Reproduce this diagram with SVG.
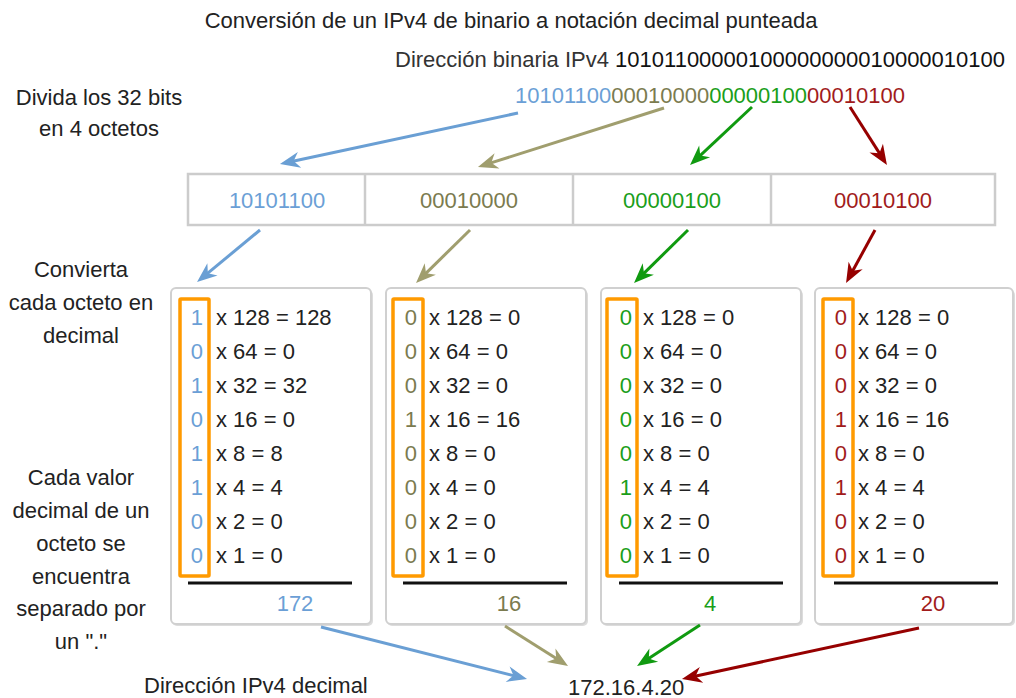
<svg xmlns="http://www.w3.org/2000/svg" width="1016" height="698" viewBox="0 0 1016 698">
<style>
text{font-family:"Liberation Sans",Arial,sans-serif;font-size:22px;fill:#222}
.c{text-anchor:middle}
.e text{text-anchor:end}
.b,.b text{fill:#6b9fd6}.o,.o text{fill:#7b7b4f}.g,.g text{fill:#1a9e1a}.r,.r text{fill:#a11b1b}
.box{fill:#fff;stroke:#d0d0d0;stroke-width:2}
.shadow{fill:#dcdcdc}
.brk{fill:none;stroke:#ff9a00;stroke-width:3.5}
.sum{stroke:#111;stroke-width:3}
.cell{fill:#fff;stroke:#cccccc;stroke-width:2.5}
.ab{stroke:#6a9fd4;stroke-width:3;fill:none;marker-end:url(#mb)}
.ao{stroke:#a09e6e;stroke-width:3;fill:none;marker-end:url(#mo)}
.ag{stroke:#109a10;stroke-width:3;fill:none;marker-end:url(#mg)}
.ar{stroke:#960000;stroke-width:3;fill:none;marker-end:url(#mr)}
</style>
<defs>
<marker id="mb" markerUnits="userSpaceOnUse" viewBox="-10 -10 24 20" refX="0" refY="0" markerWidth="24" markerHeight="20" orient="auto" overflow="visible"><path d="M12,0 L-8,-8 L-2,0 L-8,8 Z" fill="#6a9fd4"/></marker>
<marker id="mo" markerUnits="userSpaceOnUse" viewBox="-10 -10 24 20" refX="0" refY="0" markerWidth="24" markerHeight="20" orient="auto" overflow="visible"><path d="M12,0 L-8,-8 L-2,0 L-8,8 Z" fill="#a09e6e"/></marker>
<marker id="mg" markerUnits="userSpaceOnUse" viewBox="-10 -10 24 20" refX="0" refY="0" markerWidth="24" markerHeight="20" orient="auto" overflow="visible"><path d="M12,0 L-8,-8 L-2,0 L-8,8 Z" fill="#109a10"/></marker>
<marker id="mr" markerUnits="userSpaceOnUse" viewBox="-10 -10 24 20" refX="0" refY="0" markerWidth="24" markerHeight="20" orient="auto" overflow="visible"><path d="M12,0 L-8,-8 L-2,0 L-8,8 Z" fill="#960000"/></marker>
</defs>
<rect width="1016" height="698" fill="#fff"/>

<g id="title"><text class="c" x="511" y="28">Conversión de un IPv4 de binario a notación decimal punteada</text></g>
<g id="binary-address"><text x="395" y="67"><tspan fill="#333">Dirección binaria IPv4 </tspan><tspan fill="#111">10101100000100000000010000010100</tspan></text></g>
<g id="divide-label"><text class="c" x="99" y="105">Divida los 32 bits</text><text class="c" x="99" y="136">en 4 octetos</text></g>
<g id="binary-colored"><text x="515" y="103"><tspan class="b">10101100</tspan><tspan class="o">00010000</tspan><tspan class="g">00000100</tspan><tspan class="r">00010100</tspan></text></g>

<g id="octet-table">
<rect class="cell" x="188" y="174" width="807" height="51"/>
<line x1="365" y1="174" x2="365" y2="225" stroke="#cccccc" stroke-width="2.5"/>
<line x1="573" y1="174" x2="573" y2="225" stroke="#cccccc" stroke-width="2.5"/>
<line x1="771" y1="174" x2="771" y2="225" stroke="#cccccc" stroke-width="2.5"/>
<g id="cell1"><text class="c b" x="277" y="208">10101100</text></g>
<g id="cell2"><text class="c o" x="469" y="208">00010000</text></g>
<g id="cell3"><text class="c g" x="672" y="208">00000100</text></g>
<g id="cell4"><text class="c r" x="883" y="208">00010100</text></g>
</g>

<g id="convert-label"><text class="c" x="81" y="277">Convierta</text><text class="c" x="81" y="310">cada octeto en</text><text class="c" x="81" y="343">decimal</text></g>
<g id="separate-label"><text class="c" x="81" y="485">Cada valor</text><text class="c" x="81" y="518">decimal de un</text><text class="c" x="81" y="551">octeto se</text><text class="c" x="81" y="584">encuentra</text><text class="c" x="81" y="616">separado por</text><text class="c" x="81" y="649">un "."</text></g>

<g id="box1">
<rect class="shadow" x="172" y="290" width="201" height="336" rx="5"/>
<rect class="box" x="171" y="288" width="200" height="336" rx="5"/>
<rect class="brk" x="180" y="299" width="29" height="277" rx="1"/>
<g class="e b"><text x="203" y="325">1</text><text x="203" y="359">0</text><text x="203" y="393">1</text><text x="203" y="427">0</text><text x="203" y="461">1</text><text x="203" y="495">1</text><text x="203" y="529">0</text><text x="203" y="563">0</text></g>
<text x="216" y="325">x 128 = 128</text><text x="216" y="359">x 64 = 0</text><text x="216" y="393">x 32 = 32</text><text x="216" y="427">x 16 = 0</text><text x="216" y="461">x 8 = 8</text><text x="216" y="495">x 4 = 4</text><text x="216" y="529">x 2 = 0</text><text x="216" y="563">x 1 = 0</text>
<line class="sum" x1="188" y1="583" x2="352" y2="583"/>
<text class="c b" x="295" y="611">172</text>
</g>

<g id="box2">
<rect class="shadow" x="387" y="290" width="201" height="336" rx="5"/>
<rect class="box" x="386" y="288" width="200" height="336" rx="5"/>
<rect class="brk" x="393" y="299" width="30" height="277" rx="1"/>
<g class="e o"><text x="417" y="325">0</text><text x="417" y="359">0</text><text x="417" y="393">0</text><text x="417" y="427">1</text><text x="417" y="461">0</text><text x="417" y="495">0</text><text x="417" y="529">0</text><text x="417" y="563">0</text></g>
<text x="429" y="325">x 128 = 0</text><text x="429" y="359">x 64 = 0</text><text x="429" y="393">x 32 = 0</text><text x="429" y="427">x 16 = 16</text><text x="429" y="461">x 8 = 0</text><text x="429" y="495">x 4 = 0</text><text x="429" y="529">x 2 = 0</text><text x="429" y="563">x 1 = 0</text>
<line class="sum" x1="403" y1="583" x2="567" y2="583"/>
<text class="c o" x="509" y="611">16</text>
</g>

<g id="box3">
<rect class="shadow" x="602" y="290" width="201" height="336" rx="5"/>
<rect class="box" x="601" y="288" width="200" height="336" rx="5"/>
<rect class="brk" x="607" y="299" width="30" height="277" rx="1"/>
<g class="e g"><text x="632" y="325">0</text><text x="632" y="359">0</text><text x="632" y="393">0</text><text x="632" y="427">0</text><text x="632" y="461">0</text><text x="632" y="495">1</text><text x="632" y="529">0</text><text x="632" y="563">0</text></g>
<text x="643" y="325">x 128 = 0</text><text x="643" y="359">x 64 = 0</text><text x="643" y="393">x 32 = 0</text><text x="643" y="427">x 16 = 0</text><text x="643" y="461">x 8 = 0</text><text x="643" y="495">x 4 = 4</text><text x="643" y="529">x 2 = 0</text><text x="643" y="563">x 1 = 0</text>
<line class="sum" x1="619" y1="583" x2="783" y2="583"/>
<text class="c g" x="710" y="611">4</text>
</g>

<g id="box4">
<rect class="shadow" x="816" y="290" width="199" height="336" rx="5"/>
<rect class="box" x="815" y="288" width="198" height="336" rx="5"/>
<rect class="brk" x="823" y="299" width="30" height="277" rx="1"/>
<g class="e r"><text x="847" y="325">0</text><text x="847" y="359">0</text><text x="847" y="393">0</text><text x="847" y="427">1</text><text x="847" y="461">0</text><text x="847" y="495">1</text><text x="847" y="529">0</text><text x="847" y="563">0</text></g>
<text x="858" y="325">x 128 = 0</text><text x="858" y="359">x 64 = 0</text><text x="858" y="393">x 32 = 0</text><text x="858" y="427">x 16 = 16</text><text x="858" y="461">x 8 = 0</text><text x="858" y="495">x 4 = 4</text><text x="858" y="529">x 2 = 0</text><text x="858" y="563">x 1 = 0</text>
<line class="sum" x1="834" y1="583" x2="998" y2="583"/>
<text class="c r" x="933" y="611">20</text>
</g>

<g id="decimal-label"><text x="144" y="693">Dirección IPv4 decimal</text></g>
<g id="decimal-address"><text x="568" y="695">172.16.4.20</text></g>

<g id="connectors">
<path class="ab" d="M518,113 L291.7,161.5"/>
<path class="ao" d="M664,108 L489.4,163.4"/>
<path class="ag" d="M752,107 L698.8,156.8"/>
<path class="ar" d="M850,107 L880.5,154.9"/>
<path class="ab" d="M260,230 L206.3,274.4"/>
<path class="ao" d="M470,230 L424.6,274.6"/>
<path class="ag" d="M688,230 L642.6,274.6"/>
<path class="ar" d="M875,230 L851.8,272.5"/>
<path class="ab" d="M321,627 L515.4,676.1"/>
<path class="ao" d="M505,626 L557.9,659.6"/>
<path class="ag" d="M700,625 L647.1,659.5"/>
<path class="ar" d="M919,628 L693.7,676.5"/>
</g>
</svg>
